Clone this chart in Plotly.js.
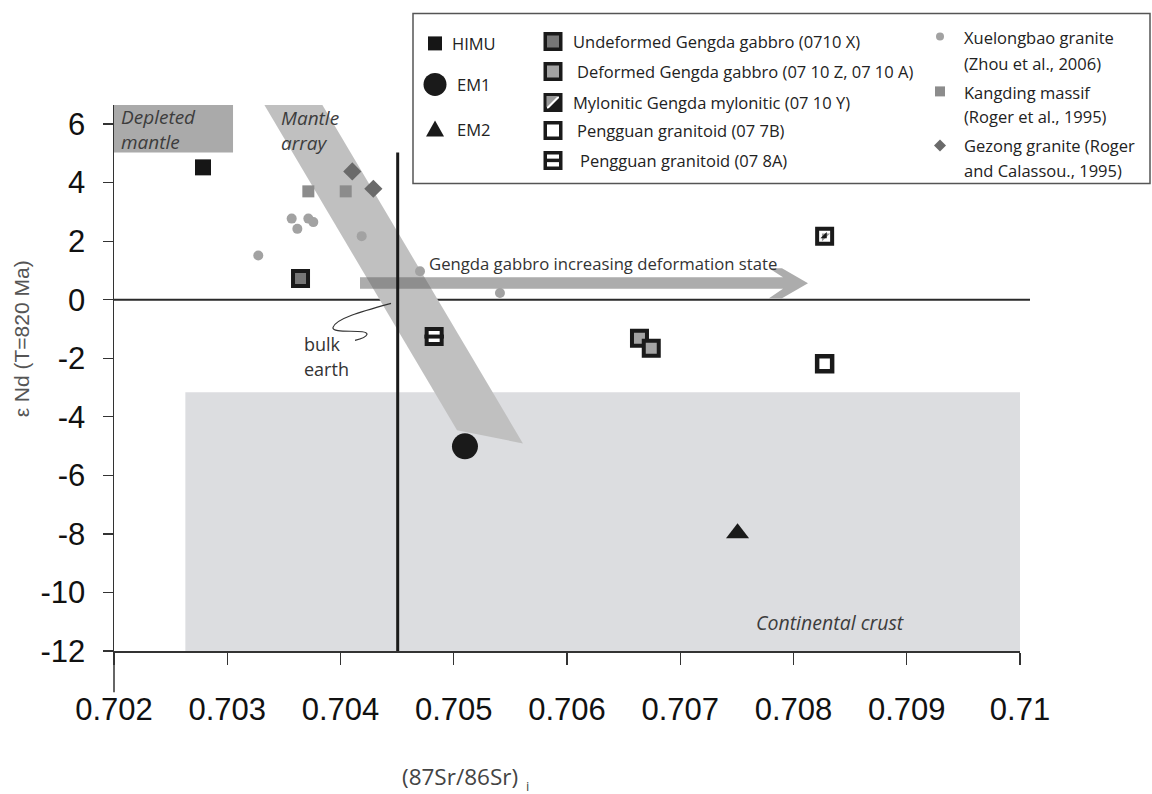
<!DOCTYPE html>
<html>
<head>
<meta charset="utf-8">
<script src="https://cdn.plot.ly/plotly-3.0.1.min.js"></script>
<style>html,body{margin:0;padding:0;background:#fff;}#chart{width:1152px;height:794px;}</style>
</head>
<body>
<div id="chart"></div>
<script>
// ---------------- DATA ----------------
const himuX = [0.702786], himuY = [4.52];
const em1X = [0.705099], em1Y = [-5.01];
const em2X = [0.707506], em2Y = [-7.98];
const undefX = [0.703647], undefY = [0.72];
const defX = [0.706640, 0.706744], defY = [-1.32, -1.66];
const myloX = [0.708275], myloY = [2.17];
const pg7bX = [0.708275], pg7bY = [-2.19];
const pg8aX = [0.704827], pg8aY = [-1.26];
const xueX = [0.703274, 0.703569, 0.703619, 0.703716, 0.703760, 0.704187, 0.704702, 0.705408];
const xueY = [1.51, 2.77, 2.42, 2.77, 2.65, 2.17, 0.97, 0.23];
const kangX = [0.703716, 0.704046], kangY = [3.70, 3.70];
const gezX = [0.704104, 0.704290], gezY = [4.38, 3.79];

const bulkEarthSr = 0.704505;
const bulkEarthTop = 5.03;
const crustX = [0.70263, 0.710], crustY = [-12, -3.16];
const depletedX = [0.702, 0.703051], depletedY = [5.03, 6.65];
const mantleArrayX = [0.703325, 0.703837, 0.705611, 0.705029];
const mantleArrayY = [6.67, 6.67, -4.91, -4.46];

const xTickVals = [0.702, 0.703, 0.704, 0.705, 0.706, 0.707, 0.708, 0.709, 0.710];
const xTickText = ['0.702', '0.703', '0.704', '0.705', '0.706', '0.707', '0.708', '0.709', '0.71'];
const yTickVals = [6, 4, 2, 0, -2, -4, -6, -8, -10, -12];
const yTickText = ['6', '4', '2', '0', '-2', '-4', '-6', '-8', '-10', '-12'];

// ---------------- GEOMETRY ----------------
const X0 = 0.702, X1 = 0.710, Y0 = -12, Y1 = 6.65;
const L = 114, R = 1020, T = 104.6, B = 650.7;
function px2x(p) { return X0 + (p - L) / (R - L) * (X1 - X0); }
function py2y(p) { return Y0 + (B - p) / (B - T) * (Y1 - Y0); }
function pxp(p) { return (p - L) / (R - L); }
function pyp(p) { return (B - p) / (B - T); }

function hasFont(name) {
  const c = document.createElement('canvas').getContext('2d');
  const s = '0.703 abcMWil';
  c.font = '40px monospace'; const a = c.measureText(s).width;
  c.font = '40px "' + name + '", monospace'; const b = c.measureText(s).width;
  c.font = '40px serif'; const a2 = c.measureText(s).width;
  c.font = '40px "' + name + '", serif'; const b2 = c.measureText(s).width;
  return a !== b && a2 !== b2;
}
const narrowOK = hasFont('Liberation Sans Narrow');
const TICKFAM = narrowOK ? 'Liberation Sans Narrow' : 'Liberation Sans, Arial, sans-serif';
const XTS = narrowOK ? 37 : 31;
const YTS = narrowOK ? 34 : 31;

const BLK = '#1a1a1a';
const traces = [];
function add(x, y, marker) {
  traces.push({type: 'scatter', mode: 'markers', x: x, y: y, marker: marker,
    hoverinfo: 'skip', showlegend: false});
}
const S = {
  himu: {symbol: 'square', size: 16, color: '#161616'},
  em1: {symbol: 'circle', size: 26, color: BLK},
  em2: {symbol: 'triangle-up', size: 20, color: BLK},
  undef: {symbol: 'square', size: 15, color: '#777777', line: {color: BLK, width: 4}},
  def: {symbol: 'square', size: 15, color: '#a3a3a3', line: {color: BLK, width: 4}},
  myloBase: {symbol: 'square', size: 15, color: '#ffffff', line: {color: BLK, width: 4}},
  myloTri1: {symbol: 'triangle-nw', size: 9, color: '#9a9a9a'},
  myloTri2: {symbol: 'triangle-se', size: 7, color: BLK},
  pg7b: {symbol: 'square', size: 15, color: '#ffffff', line: {color: BLK, width: 4.5}},
  pg8a: {symbol: 'square', size: 15, color: '#ffffff', line: {color: BLK, width: 4}},
  pg8aBar: {symbol: 'line-ew', size: 14, line: {color: BLK, width: 4}},
  xue: {symbol: 'circle', size: 10, color: '#a2a2a2'},
  kang: {symbol: 'square', size: 12, color: '#8c8c8c'},
  gez: {symbol: 'diamond', size: 14, color: '#6a6a6a'}
};
add(xueX, xueY, S.xue);
add(kangX, kangY, S.kang);
add(gezX, gezY, S.gez);
add(himuX, himuY, S.himu);
add(em1X, em1Y, S.em1);
add(em2X, em2Y, S.em2);
add(undefX, undefY, S.undef);
add(defX, defY, S.def);
add(myloX, myloY, S.myloBase);
add(myloX, myloY, S.myloTri1);
add(myloX, myloY, S.myloTri2);
add(pg7bX, pg7bY, S.pg7b);
add(pg8aX, pg8aY, S.pg8a);
add(pg8aX, pg8aY, S.pg8aBar);

// ---------------- SHAPES ----------------
function pathPx(pts) {
  return 'M' + pts.map(p => px2x(p[0]) + ',' + py2y(p[1])).join('L') + 'Z';
}
function pathPaper(pts) {
  return 'M' + pts.map(p => pxp(p[0]) + ',' + pyp(p[1])).join('L') + 'Z';
}
const shapes = [];
shapes.push({type: 'rect', layer: 'below', xref: 'x', yref: 'y', x0: crustX[0], x1: crustX[1], y0: crustY[0], y1: crustY[1],
  fillcolor: '#dcdde0', line: {width: 0}});
shapes.push({type: 'path', layer: 'below', xref: 'x', yref: 'y',
  path: 'M' + mantleArrayX.map((v, i) => v + ',' + mantleArrayY[i]).join('L') + 'Z',
  fillcolor: '#c0c0c0', line: {width: 0}});
shapes.push({type: 'rect', layer: 'below', xref: 'x', yref: 'y', x0: depletedX[0], x1: depletedX[1], y0: depletedY[0], y1: depletedY[1],
  fillcolor: '#aaaaaa', line: {width: 0}});
shapes.push({type: 'path', layer: 'below', xref: 'x', yref: 'y',
  path: pathPx([[360, 277], [783, 277], [769, 268], [782, 268], [808, 283], [782, 298], [769, 298], [783, 288.5], [360, 288.5]]),
  fillcolor: 'rgba(95,95,95,0.52)', line: {width: 0}});
shapes.push({type: 'line', layer: 'below', xref: 'paper', yref: 'y', x0: 0, x1: pxp(1030), y0: 0, y1: 0,
  line: {color: '#2a2a2a', width: 2}});
shapes.push({type: 'line', layer: 'below', xref: 'x', yref: 'y', x0: bulkEarthSr, x1: bulkEarthSr, y0: -12, y1: bulkEarthTop,
  line: {color: BLK, width: 3}});
shapes.push({type: 'line', layer: 'above', xref: 'paper', yref: 'paper', x0: 0, x1: 0, y0: pyp(692), y1: 0,
  line: {color: '#333', width: 1.5}});
function pp(a, b) { return px2x(a) + ',' + py2y(b); }
shapes.push({type: 'path', layer: 'above', xref: 'x', yref: 'y',
  path: 'M' + pp(391, 303) + 'C' + pp(362, 311) + ' ' + pp(336, 318) + ' ' + pp(333, 327) +
        'C' + pp(331, 334) + ' ' + pp(368, 328) + ' ' + pp(367, 334) +
        'C' + pp(366, 337) + ' ' + pp(359, 339) + ' ' + pp(355, 340),
  line: {color: '#333', width: 1.2}});
// legend box
shapes.push({type: 'rect', layer: 'above', xref: 'paper', yref: 'paper', x0: pxp(413), x1: pxp(1150), y0: pyp(183), y1: pyp(13),
  fillcolor: '#ffffff', line: {color: '#555', width: 1.5}});

// legend sample symbols (pixel positions)
function lrect(cx, cy, outer, fill, lw) {
  const h = outer / 2 - (lw || 0) / 2;
  shapes.push({type: 'rect', layer: 'above', xref: 'paper', yref: 'paper',
    x0: pxp(cx - h), x1: pxp(cx + h), y0: pyp(cy + h), y1: pyp(cy - h),
    fillcolor: fill, line: lw ? {color: BLK, width: lw} : {width: 0}});
}
function lpoly(pts, fill) {
  shapes.push({type: 'path', layer: 'above', xref: 'paper', yref: 'paper', path: pathPaper(pts),
    fillcolor: fill, line: {width: 0}});
}
function lcirc(cx, cy, d, fill) {
  shapes.push({type: 'circle', layer: 'above', xref: 'paper', yref: 'paper',
    x0: pxp(cx - d / 2), x1: pxp(cx + d / 2), y0: pyp(cy + d / 2), y1: pyp(cy - d / 2),
    fillcolor: fill, line: {width: 0}});
}
lrect(435, 43, 14, '#161616');
lcirc(435, 84, 23, BLK);
lpoly([[426, 136], [444, 136], [435, 120]], BLK);
lrect(553, 41, 19, '#777777', 3.5);
lrect(553, 71, 19, '#a3a3a3', 3.5);
lrect(553, 102, 19, '#ffffff', 3.5);
lpoly([[546.5, 95.5], [558, 95.5], [546.5, 107]], '#9a9a9a');
lpoly([[559.5, 97], [559.5, 108.5], [548, 108.5]], BLK);
lrect(553, 130, 19, '#ffffff', 3.5);
lrect(553, 160, 19, '#ffffff', 3.5);
shapes.push({type: 'line', layer: 'above', xref: 'paper', yref: 'paper', x0: pxp(546), x1: pxp(560), y0: pyp(160), y1: pyp(160),
  line: {color: BLK, width: 3.5}});
lcirc(940, 36, 8, '#a2a2a2');
lrect(940, 91, 10, '#8c8c8c');
lpoly([[940, 139], [946, 145], [940, 151], [934, 145]], '#6a6a6a');

// ---------------- ANNOTATIONS ----------------
const TXT = 'Open Sans, sans-serif';
const anns = [];
function txt(px, py, text, opts) {
  opts = opts || {};
  anns.push({xref: 'paper', yref: 'paper', x: pxp(px), y: pyp(py), text: text, showarrow: false,
    xanchor: opts.xanchor || 'left', yanchor: 'middle',
    font: {family: opts.family || TXT, size: opts.size || 16.5, color: opts.color || '#222', style: opts.style || 'normal'}});
}
txt(450, 43, 'HIMU');
txt(455, 84, 'EM1');
txt(455, 129, 'EM2');
txt(571, 41, 'Undeformed Gengda gabbro (0710 X)');
txt(575, 71, 'Deformed Gengda gabbro (07 10 Z, 07 10 A)');
txt(571, 102, 'Mylonitic Gengda mylonitic (07 10 Y)');
txt(575, 130, 'Pengguan granitoid (07 7B)');
txt(578, 160, 'Pengguan granitoid (07 8A)');
txt(962, 37, 'Xuelongbao granite');
txt(962, 63, '(Zhou et al., 2006)');
txt(962, 92, 'Kangding massif');
txt(962, 116, '(Roger et al., 1995)');
txt(962, 145, 'Gezong granite (Roger');
txt(962, 170, 'and Calassou., 1995)');
txt(119, 117, 'Depleted', {size: 19, style: 'italic', color: '#3c3c3c'});
txt(119, 142, 'mantle', {size: 19, style: 'italic', color: '#3c3c3c'});
txt(279, 118, 'Mantle', {size: 19, style: 'italic', color: '#3c3c3c'});
txt(279, 143, 'array', {size: 19, style: 'italic', color: '#3c3c3c'});
txt(830, 622, 'Continental crust', {size: 19.5, style: 'italic', color: '#3c3c3c', xanchor: 'center'});
txt(603, 263, 'Gengda gabbro increasing deformation state', {size: 16.7, color: '#333', xanchor: 'center'});
txt(302, 344, 'bulk', {size: 18, color: '#333'});
txt(302, 369, 'earth', {size: 18, color: '#333'});
txt(400, 776, '(87Sr/86Sr)', {size: 22.5, color: '#444'});
txt(524, 786, 'i', {size: 13, color: '#444'});
anns.push({xref: 'paper', yref: 'paper', x: pxp(21), y: pyp(339), text: 'ε Nd (T=820 Ma)', showarrow: false,
  textangle: -90, xanchor: 'center', yanchor: 'middle',
  font: {family: 'Liberation Sans, Arial, sans-serif', size: 21, color: '#555'}});

const layout = {
  width: 1152, height: 794,
  margin: {l: L, r: 1152 - R, t: T, b: 794 - B, pad: 0},
  paper_bgcolor: '#ffffff', plot_bgcolor: 'rgba(0,0,0,0)',
  showlegend: false,
  xaxis: {range: [X0, X1], showgrid: false, zeroline: false, showline: true, linecolor: '#333', linewidth: 1.5,
    ticks: 'outside', ticklen: 12, tickcolor: '#333', tickwidth: 1.2,
    tickvals: xTickVals, ticktext: xTickText, ticklabelstandoff: 18,
    tickfont: {family: TICKFAM, size: XTS, color: '#111'}},
  yaxis: {range: [Y0, Y1], showgrid: false, zeroline: false, showline: true, linecolor: '#333', linewidth: 1.5,
    ticks: 'outside', ticklen: 10, tickcolor: '#333', tickwidth: 1.2,
    tickvals: yTickVals, ticktext: yTickText, ticklabelstandoff: 11,
    tickfont: {family: TICKFAM, size: YTS, color: '#111'}},
  shapes: shapes,
  annotations: anns
};
Plotly.newPlot('chart', traces, layout, {staticPlot: true, displayModeBar: false});
</script>
</body>
</html>
